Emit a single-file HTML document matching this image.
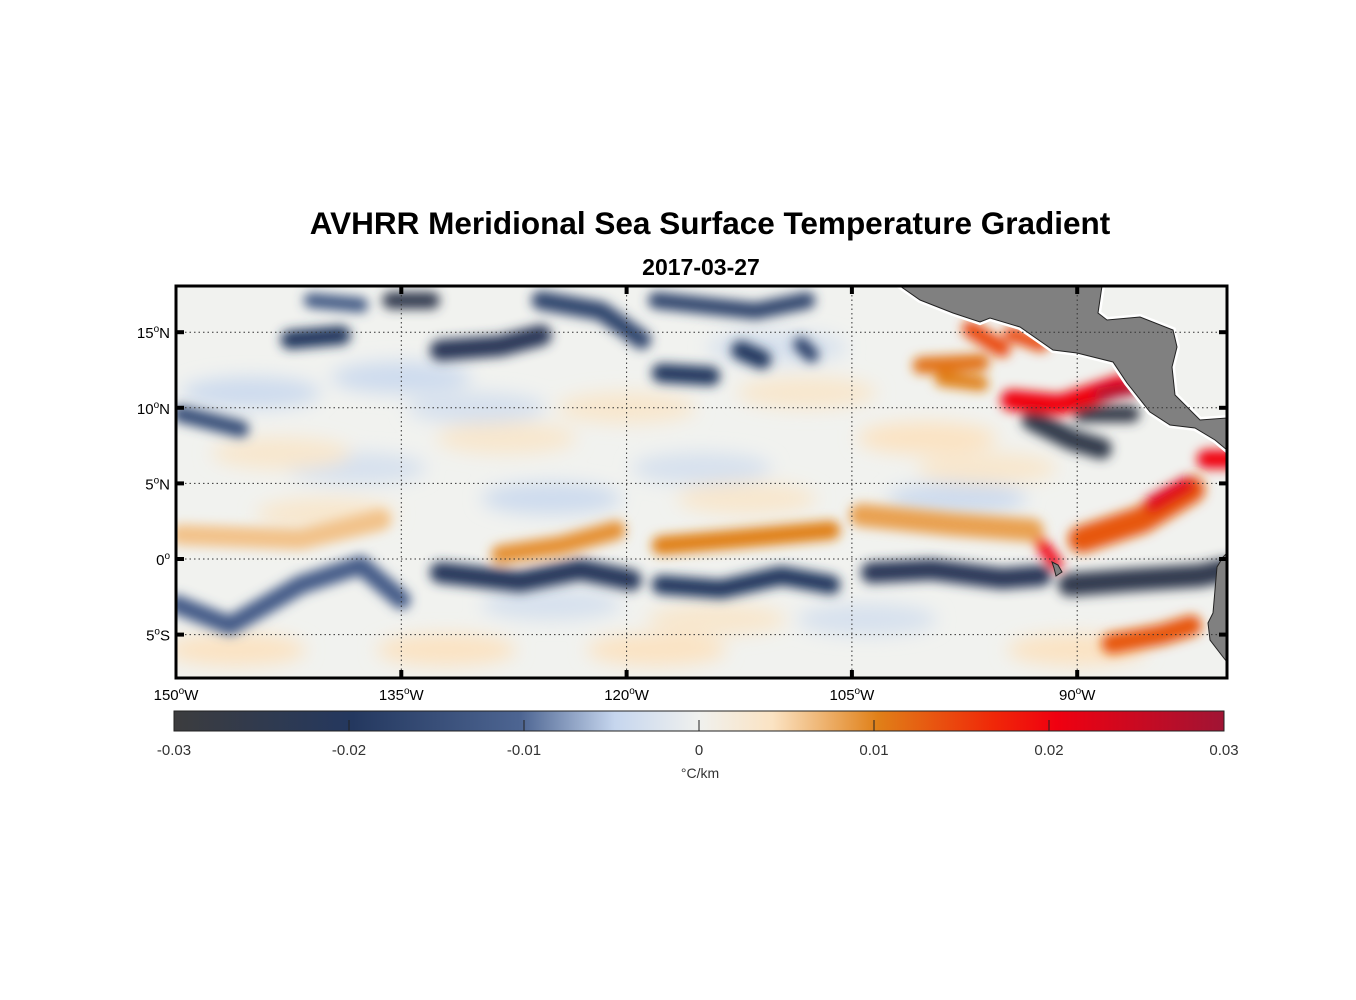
<!DOCTYPE html>
<html><head><meta charset="utf-8"><style>
body{margin:0;background:#fff;}
svg{display:block;font-family:"Liberation Sans",sans-serif;}
</style></head><body>
<svg id="chart" width="1356" height="1000" viewBox="0 0 1356 1000">
<defs>
<clipPath id="plotclip"><rect x="176" y="286" width="1051" height="392"/></clipPath>
<filter id="blur" x="-20%" y="-20%" width="140%" height="140%"><feGaussianBlur stdDeviation="5.5"/></filter>
<filter id="blur2" x="-30%" y="-30%" width="160%" height="160%"><feGaussianBlur stdDeviation="9"/></filter>
<linearGradient id="cmap" x1="0" x2="1" y1="0" y2="0">
<stop offset="0" stop-color="#3c3c3e"/><stop offset="0.17" stop-color="#24385f"/><stop offset="0.33" stop-color="#4d6592"/><stop offset="0.42" stop-color="#c6d6ee"/><stop offset="0.5" stop-color="#f0f1ee"/><stop offset="0.57" stop-color="#fbe3c3"/><stop offset="0.67" stop-color="#e08018"/><stop offset="0.78" stop-color="#f02808"/><stop offset="0.84" stop-color="#f00010"/><stop offset="1" stop-color="#a01434"/>
</linearGradient>
</defs>
<text x="710" y="234" text-anchor="middle" font-size="31.5" font-weight="bold">AVHRR Meridional Sea Surface Temperature Gradient</text>
<text x="701" y="275" text-anchor="middle" font-size="23" font-weight="bold">2017-03-27</text>
<g clip-path="url(#plotclip)">
<rect x="176" y="286" width="1051" height="392" fill="#f1f2ef"/>
<g id="pale" filter="url(#blur2)"></g>
<g id="marks" filter="url(#blur)"></g>
<path d="M900,286 L1102,286 L1098,313 L1107,320 L1140,317 L1173,330 L1177,347 L1172,367 L1175,395 L1200,420 L1227,418 L1227,450 L1215,440 L1195,428 L1170,425 L1150,412 L1127,383 L1113,362 L1077,353 L1053,350 L1020,327 L990,318 L980,322 L953,313 L920,300 Z" fill="#808080" stroke="#fff" stroke-width="6" paint-order="stroke"/>
<path d="M900,286 L1102,286 L1098,313 L1107,320 L1140,317 L1173,330 L1177,347 L1172,367 L1175,395 L1200,420 L1227,418 L1227,450 L1215,440 L1195,428 L1170,425 L1150,412 L1127,383 L1113,362 L1077,353 L1053,350 L1020,327 L990,318 L980,322 L953,313 L920,300 Z" fill="#808080" stroke="#222" stroke-width="1"/>
<path d="M1227,553 L1223,557 L1217,567 L1213,613 L1208,623 L1210,640 L1223,657 L1227,662 Z" fill="#808080" stroke="#222" stroke-width="1"/>
<path d="M1052,562 L1058,565 L1062,572 L1056,576 L1054,568 Z" fill="#808080" stroke="#222" stroke-width="1"/>
<g id="grid"></g>
</g>
<rect x="176" y="286" width="1051" height="392" fill="none" stroke="#000" stroke-width="3"/>
<g id="axes"></g>
<rect x="174" y="711" width="1050" height="20" fill="url(#cmap)" stroke="#222" stroke-width="1"/>
<g id="cbticks"></g>
<text x="700" y="778" text-anchor="middle" font-size="14" fill="#333">°C/km</text>
</svg>
<script>
const NS='http://www.w3.org/2000/svg';
const featLon=[
 [-150,-146.4,-141.7,-137.7,-135],
 [-132.4,-127.1,-123.1,-119.7],
 [-117.7,-113.7,-109.7,-106.4],
 [-103.7,-99.7,-95,-92.4],
 [-90.5,-86.5,-81.8,-80],
 [-93,-90.4,-88.4],[-89.7,-86.4],
 [-142.4,-139],[-132.4,-128.4,-125.7],[-117.7,-114.4],[-149.7,-145.7],[-135.7,-133],[-125.7,-121.7,-119],[-118,-111.4,-108],[-141,-137.7],[-112.4,-111],[-108.4,-107.7],
 [-149.7,-141.7,-136.4],
 [-128.4,-124.4,-120.7],
 [-117.7,-113,-109.7,-106.4],
 [-104.4,-98.4,-93],
 [-89.7,-85.7,-82.4],[-85,-82.7],
 [-94.4,-91.1,-87.1],[-88.4,-86.1],
 [-100.4,-96.4],[-99,-96.4],[-97.1,-95],[-94.4,-92.4],
 [-87.7,-84.4,-82.4],
 [-81.4,-79.4],
 [-92.4,-91.4]
];
const featLat=[
 [-3,-4.4,-1.7,-0.4,-2.7],
 [-0.9,-1.5,-0.7,-1.4],
 [-1.7,-2.0,-1.1,-1.7],
 [-0.9,-0.7,-1.3,-1.1],
 [-1.7,-1.4,-1.1,-0.7],
 [9.2,7.9,7.3],[9.6,9.6],
 [14.5,14.8],[13.8,14.1,14.8],[12.3,12.1],[9.6,8.6],[17.1,17.1],[17.1,16.4,14.5],[17.1,16.4,17.1],[17.1,16.8],[13.8,13.2],[14.2,13.5],
 [1.6,1.3,2.6],
 [0.3,0.9,1.9],
 [0.9,1.3,1.6,1.9],
 [2.9,2.3,1.9],
 [1.3,2.6,4.6],
 [3.6,4.9],
 [10.5,10.2,11.5],[10.9,11.3],
 [12.8,13.0],[11.9,11.6],[15.2,13.9],[14.9,14.2],
 [-5.6,-5.0,-4.4],
 [6.6,6.6],
 [1,-0.3]
];
const featVal=[-0.012,-0.021,-0.02,-0.022,-0.025,-0.026,-0.027,-0.02,-0.022,-0.02,-0.015,-0.025,-0.017,-0.017,-0.013,-0.02,-0.018,
 0.006,0.009,0.01,0.008,0.013,0.022,0.02,0.028,0.011,0.01,0.014,0.014,0.013,0.02,0.02];
const featWid=[0.9,1.0,0.9,1.0,1.1,1.0,0.8,0.9,1.0,0.9,0.8,0.8,0.9,0.8,0.7,0.9,0.7,
 1.0,0.9,0.9,1.1,1.3,0.8,1.0,0.6,0.8,0.7,0.8,0.7,1.0,0.9,0.6];
const paleLon=[-145,-138,-128,-115,-108,-100,-140,-125,-112,-98,-146,-132,-118,-104,-90,-135,-120,-143,-130,-110,-96,-125,-114];
const paleLat=[11,6,8,6,11,8,3,4,4,4,-6,-6,-6,-4,-6,12,10,7,10,14,6,-3,-4];
const paleVal=[-0.004,-0.003,0.003,-0.003,0.003,0.004,0.003,-0.004,0.003,-0.004,0.004,0.004,0.004,-0.003,0.004,-0.004,0.003,0.003,-0.003,-0.003,0.003,-0.003,0.003];
const lonTicks=[-150,-135,-120,-105,-90];
const lonLabels=['150','135','120','105','90'];
const latTicks=[15,10,5,0,-5];
const latLabels=[['15','N'],['10','N'],['5','N'],['0',''],['5','S']];
const cbTicks=[-0.03,-0.02,-0.01,0,0.01,0.02,0.03];
const cbLabels=['-0.03','-0.02','-0.01','0','0.01','0.02','0.03'];

const X=lon=>176+(lon+150)*15.02;
const Y=lat=>559-lat*15.12;
const stops=[[-0.03,[60,60,62]],[-0.02,[36,56,95]],[-0.01,[77,101,146]],[-0.005,[198,214,238]],[0,[240,241,238]],[0.004,[251,227,195]],[0.01,[224,128,24]],[0.0165,[240,40,8]],[0.02,[240,0,16]],[0.03,[160,20,52]]];
function cmap(v){v=Math.max(-0.03,Math.min(0.03,v));for(let i=0;i<stops.length-1;i++){const a=stops[i],b=stops[i+1];if(v<=b[0]){const t=(v-a[0])/(b[0]-a[0]);return 'rgb('+a[1].map((c,k)=>Math.round(c+(b[1][k]-c)*t)).join(',')+')';}}return 'rgb(160,20,52)';}
const marks=document.getElementById('marks');
featLon.forEach((lons,i)=>{
 const p=document.createElementNS(NS,'polyline');
 p.setAttribute('points',lons.map((l,j)=>X(l)+','+Y(featLat[i][j])).join(' '));
 p.setAttribute('fill','none');p.setAttribute('stroke',cmap(featVal[i]));
 p.setAttribute('stroke-width',featWid[i]*21);p.setAttribute('stroke-linecap','round');p.setAttribute('stroke-linejoin','round');
 
 
 marks.appendChild(p);
});
const pale=document.getElementById('pale');
paleLon.forEach((l,i)=>{
 const e=document.createElementNS(NS,'ellipse');
 e.setAttribute('cx',X(l));e.setAttribute('cy',Y(paleLat[i]));e.setAttribute('rx',70);e.setAttribute('ry',16);
 e.setAttribute('fill',cmap(paleVal[i]));
 
 
 pale.appendChild(e);
});
const grid=document.getElementById('grid'),axes=document.getElementById('axes');
lonTicks.forEach((l,i)=>{
 const x=X(l);
 if(i>0){const g=document.createElementNS(NS,'line');g.setAttribute('x1',x);g.setAttribute('x2',x);g.setAttribute('y1',286);g.setAttribute('y2',678);g.setAttribute('stroke','#333');g.setAttribute('stroke-dasharray','1.5,3');
 
 
 grid.appendChild(g);
 ['286','670'].forEach(y0=>{const t=document.createElementNS(NS,'rect');t.setAttribute('x',x-2);t.setAttribute('y',y0);t.setAttribute('width',4);t.setAttribute('height',8);
 
 
 axes.appendChild(t);});}
 const tx=document.createElementNS(NS,'text');tx.setAttribute('x',x);tx.setAttribute('y',700);tx.setAttribute('text-anchor','middle');tx.setAttribute('font-size','15');
 tx.innerHTML=lonLabels[i]+'<tspan dy="-6" font-size="10">o</tspan><tspan dy="6">W</tspan>';
 
 
 axes.appendChild(tx);
});
latTicks.forEach((l,i)=>{
 const y=Y(l);
 const g=document.createElementNS(NS,'line');g.setAttribute('x1',176);g.setAttribute('x2',1227);g.setAttribute('y1',y);g.setAttribute('y2',y);g.setAttribute('stroke','#333');g.setAttribute('stroke-dasharray','1.5,3');
 
 
 grid.appendChild(g);
 [176,1219].forEach(x0=>{const t=document.createElementNS(NS,'rect');t.setAttribute('x',x0);t.setAttribute('y',y-2);t.setAttribute('width',8);t.setAttribute('height',4);
 
 
 axes.appendChild(t);});
 const tx=document.createElementNS(NS,'text');tx.setAttribute('x',170);tx.setAttribute('y',y+6);tx.setAttribute('text-anchor','end');tx.setAttribute('font-size','15');
 tx.innerHTML=latLabels[i][0]+'<tspan dy="-6" font-size="10">o</tspan><tspan dy="6">'+latLabels[i][1]+'</tspan>';
 
 
 axes.appendChild(tx);
});
const cb=document.getElementById('cbticks');
cbTicks.forEach((v,i)=>{
 const x=174+(v+0.03)/0.06*1050;
 if(i>0&&i<cbTicks.length-1){const t=document.createElementNS(NS,'line');t.setAttribute('x1',x);t.setAttribute('x2',x);t.setAttribute('y1',720);t.setAttribute('y2',731);t.setAttribute('stroke','#222');
 
 
 cb.appendChild(t);}
 const tx=document.createElementNS(NS,'text');tx.setAttribute('x',x);tx.setAttribute('y',755);tx.setAttribute('text-anchor','middle');tx.setAttribute('font-size','15');tx.setAttribute('fill','#333');
 tx.textContent=cbLabels[i];
 
 
 cb.appendChild(tx);
});
</script>
</body></html>
